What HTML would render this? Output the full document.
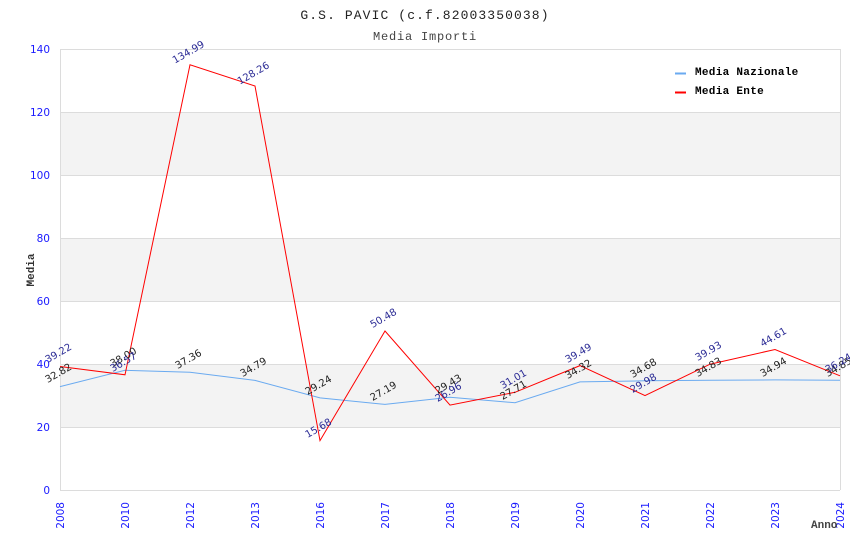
<!DOCTYPE html>
<html>
<head>
<meta charset="utf-8">
<style>
html,body{margin:0;padding:0;background:#fff;}
svg{display:block;}
.tick{font-family:"DejaVu Sans",sans-serif;font-size:10.5px;fill:#1a1aff;}
.lblN{font-family:"DejaVu Sans",sans-serif;font-size:10px;fill:#222;}
.lblE{font-family:"DejaVu Sans",sans-serif;font-size:10px;fill:#2b2b95;}
.mono{font-family:"Liberation Mono","DejaVu Sans Mono",monospace;}
</style>
</head>
<body>
<svg width="850" height="550" viewBox="0 0 850 550" xmlns="http://www.w3.org/2000/svg">
<rect width="850" height="550" fill="#fff"/>
<!-- title -->
<text x="425" y="19" text-anchor="middle" class="mono" font-size="13" letter-spacing="1.1" fill="#222">G.S. PAVIC (c.f.82003350038)</text>
<text x="425" y="40" text-anchor="middle" class="mono" font-size="12" letter-spacing="0.8" fill="#444">Media Importi</text>
<!-- bands -->
<rect x="60" y="364" width="780" height="63" fill="#f3f3f3"/>
<rect x="60" y="238" width="780" height="63" fill="#f3f3f3"/>
<rect x="60" y="112" width="780" height="63" fill="#f3f3f3"/>
<!-- grid -->
<g stroke="#dcdcdc" stroke-width="1">
<line x1="60" y1="49.5" x2="840" y2="49.5"/>
<line x1="60" y1="112.5" x2="840" y2="112.5"/>
<line x1="60" y1="175.5" x2="840" y2="175.5"/>
<line x1="60" y1="238.5" x2="840" y2="238.5"/>
<line x1="60" y1="301.5" x2="840" y2="301.5"/>
<line x1="60" y1="364.5" x2="840" y2="364.5"/>
<line x1="60" y1="427.5" x2="840" y2="427.5"/>
<line x1="60" y1="490.5" x2="840" y2="490.5"/>
<line x1="60.5" y1="49" x2="60.5" y2="490"/>
<line x1="840.5" y1="49" x2="840.5" y2="490"/>
</g>
<!-- y ticks -->
<g class="tick" text-anchor="end">
<text x="50" y="53">140</text>
<text x="50" y="116">120</text>
<text x="50" y="179">100</text>
<text x="50" y="242">80</text>
<text x="50" y="305">60</text>
<text x="50" y="368">40</text>
<text x="50" y="431">20</text>
<text x="50" y="494">0</text>
</g>
<!-- x ticks -->
<g class="tick" text-anchor="end">
<text transform="translate(64,502) rotate(-90)">2008</text>
<text transform="translate(129,502) rotate(-90)">2010</text>
<text transform="translate(194,502) rotate(-90)">2012</text>
<text transform="translate(259,502) rotate(-90)">2013</text>
<text transform="translate(324,502) rotate(-90)">2016</text>
<text transform="translate(389,502) rotate(-90)">2017</text>
<text transform="translate(454,502) rotate(-90)">2018</text>
<text transform="translate(519,502) rotate(-90)">2019</text>
<text transform="translate(584,502) rotate(-90)">2020</text>
<text transform="translate(649,502) rotate(-90)">2021</text>
<text transform="translate(714,502) rotate(-90)">2022</text>
<text transform="translate(779,502) rotate(-90)">2023</text>
<text transform="translate(844,502) rotate(-90)">2024</text>
</g>
<!-- axis titles -->
<text transform="translate(34,270) rotate(-90)" text-anchor="middle" class="mono" font-size="11" font-weight="bold" fill="#333">Media</text>
<text x="811" y="528" class="mono" font-size="11" font-weight="bold" fill="#444">Anno</text>
<!-- series -->
<polyline fill="none" stroke="#6aaaf0" stroke-width="1" points="60,386.6 125,370.3 190,372.3 255,380.4 320,397.9 385,404.4 450,397.3 515,402.7 580,381.9 645,380.8 710,380.3 775,379.9 840,380.2"/>
<polyline fill="none" stroke="#ff0000" stroke-width="1" points="60,366.5 125,374.8 190,64.8 255,86.0 320,440.6 385,331.0 450,405.1 515,392.3 580,365.6 645,395.6 710,364.2 775,349.5 840,375.8"/>
<!-- labels nazionale -->
<g class="lblN" text-anchor="middle">
<text transform="translate(60,376) rotate(-30)">32.82</text>
<text transform="translate(125,360) rotate(-30)">38.00</text>
<text transform="translate(190,362) rotate(-30)">37.36</text>
<text transform="translate(255,370) rotate(-30)">34.79</text>
<text transform="translate(320,388) rotate(-30)">29.24</text>
<text transform="translate(385,394) rotate(-30)">27.19</text>
<text transform="translate(450,387) rotate(-30)">29.43</text>
<text transform="translate(515,393) rotate(-30)">27.71</text>
<text transform="translate(580,372) rotate(-30)">34.32</text>
<text transform="translate(645,371) rotate(-30)">34.68</text>
<text transform="translate(710,370) rotate(-30)">34.83</text>
<text transform="translate(775,370) rotate(-30)">34.94</text>
<text transform="translate(840,370) rotate(-30)">34.85</text>
</g>
<!-- labels ente -->
<g class="lblE" text-anchor="middle">
<text transform="translate(60,356) rotate(-30)">39.22</text>
<text transform="translate(125,365) rotate(-30)">36.57</text>
<text transform="translate(190,55) rotate(-30)">134.99</text>
<text transform="translate(255,76) rotate(-30)">128.26</text>
<text transform="translate(320,431) rotate(-30)">15.68</text>
<text transform="translate(385,321) rotate(-30)">50.48</text>
<text transform="translate(450,395) rotate(-30)">26.96</text>
<text transform="translate(515,382) rotate(-30)">31.01</text>
<text transform="translate(580,356) rotate(-30)">39.49</text>
<text transform="translate(645,386) rotate(-30)">29.98</text>
<text transform="translate(710,354) rotate(-30)">39.93</text>
<text transform="translate(775,340) rotate(-30)">44.61</text>
<text transform="translate(840,366) rotate(-30)">36.24</text>
</g>
<!-- legend -->
<line x1="675" y1="73.5" x2="686" y2="73.5" stroke="#6aaaf0" stroke-width="2"/>
<line x1="675" y1="92.5" x2="686" y2="92.5" stroke="#ff0000" stroke-width="2"/>
<text x="695" y="75" class="mono" font-size="11" font-weight="bold" letter-spacing="0.3" fill="#000">Media Nazionale</text>
<text x="695" y="94" class="mono" font-size="11" font-weight="bold" letter-spacing="0.3" fill="#000">Media Ente</text>
</svg>
</body>
</html>
